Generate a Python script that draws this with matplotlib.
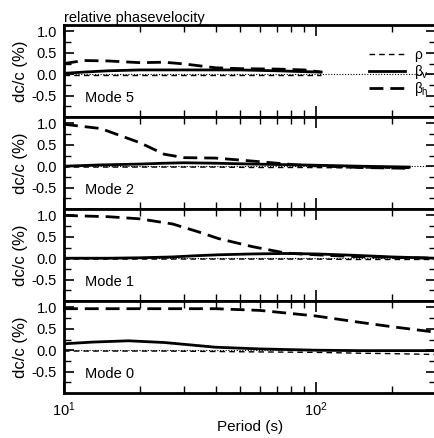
import numpy as np
import matplotlib.pyplot as plt
from matplotlib.ticker import FixedLocator, NullFormatter

plt.rcParams['font.family'] = ['Liberation Sans', 'DejaVu Sans']
plt.rcParams['mathtext.fontset'] = 'custom'
plt.rcParams['mathtext.rm'] = 'Liberation Sans'
plt.rcParams['mathtext.it'] = 'Liberation Sans'

# Mode 5
p5 = [10, 12, 15, 20, 25, 30, 40, 50, 70, 90, 105]
bh5 = [0.25, 0.32, 0.31, 0.27, 0.28, 0.24, 0.15, 0.13, 0.12, 0.10, 0.05]
bv5 = [0.02, 0.05, 0.08, 0.10, 0.10, 0.10, 0.10, 0.10, 0.08, 0.06, 0.05]
rho5 = [-0.02, -0.02, -0.02, -0.02, -0.02, -0.02, -0.02, -0.02, -0.02, -0.02, -0.02]

# Mode 2
p2 = [10, 14, 20, 25, 30, 40, 56, 88, 150, 235]
bh2 = [0.98, 0.88, 0.55, 0.28, 0.20, 0.19, 0.12, 0.02, -0.03, -0.05]
bv2 = [0.00, 0.03, 0.05, 0.07, 0.08, 0.07, 0.05, 0.03, 0.00, -0.02]
rho2 = [-0.02, -0.02, -0.02, -0.02, -0.02, -0.02, -0.03, -0.03, -0.04, -0.05]

# Mode 1
p1 = [10, 15, 20, 27, 34, 41, 56, 76, 100, 139, 200, 300]
bh1 = [1.00, 0.97, 0.92, 0.80, 0.62, 0.46, 0.27, 0.12, 0.08, 0.04, 0.02, 0.00]
bv1 = [0.00, 0.00, 0.01, 0.03, 0.06, 0.08, 0.10, 0.11, 0.10, 0.07, 0.03, 0.00]
rho1 = [-0.02, -0.02, -0.02, -0.02, -0.02, -0.02, -0.02, -0.02, -0.02, -0.03, -0.03, -0.03]

# Mode 0
p0 = [10, 13, 18, 25, 40, 60, 100, 150, 200, 300]
bh0 = [0.97, 0.97, 0.97, 0.97, 0.97, 0.93, 0.80, 0.65, 0.55, 0.42]
bv0 = [0.15, 0.19, 0.22, 0.18, 0.07, 0.03, 0.00, -0.01, -0.01, -0.01]
rho0 = [-0.02, -0.02, -0.02, -0.02, -0.03, -0.04, -0.05, -0.07, -0.08, -0.10]

modes = [("Mode 5", p5, rho5, bv5, bh5),
         ("Mode 2", p2, rho2, bv2, bh2),
         ("Mode 1", p1, rho1, bv1, bh1),
         ("Mode 0", p0, rho0, bv0, bh0)]

fig = plt.figure(figsize=(4.35, 4.38), dpi=100)
left, width = 64/435, 372/435
h = 92/438
top = 1 - 25/438
fs = 10.5

axes = []
for i, (name, p, rho, bv, bh) in enumerate(modes):
    ax = fig.add_axes([left, top - (i+1)*h, width, h])
    axes.append(ax)
    ax.set_xscale('log')
    ax.set_xlim(10, 300)
    ax.set_ylim(-1.0, 1.15)
    ax.axhline(0, color='k', lw=0.8, ls=(0, (1, 1.5)))
    l1, = ax.plot(p, rho, color='k', lw=1.0, ls=(0, (4, 3)))
    l2, = ax.plot(p, bv, color='k', lw=2.0, ls='-')
    l3, = ax.plot(p, bh, color='k', lw=2.0, ls=(0, (5, 2.5)))
    ax.set_yticks([-0.5, 0.0, 0.5, 1.0])
    ax.set_yticklabels(['-0.5', '0.0', '0.5', '1.0'])
    ax.yaxis.set_minor_locator(FixedLocator([-0.75, -0.25, 0.25, 0.75]))
    ax.xaxis.set_major_locator(FixedLocator([10, 100]))
    ax.xaxis.set_minor_locator(FixedLocator([20, 30, 40, 50, 60, 70, 80, 90, 200]))
    ax.xaxis.set_minor_formatter(NullFormatter())
    ax.tick_params(which='both', direction='in', top=True, right=True, labelsize=fs)
    ax.tick_params(which='major', axis='x', length=8, width=1.2)
    ax.tick_params(which='minor', axis='x', length=5, width=1.0)
    ax.tick_params(which='major', axis='y', length=7, width=1.2, pad=5)
    ax.tick_params(which='minor', axis='y', length=5, width=1.0)
    for s in ax.spines.values():
        s.set_linewidth(2.0)
    ax.set_ylabel('dc/c (%)', fontsize=12, labelpad=3)
    ax.text(0.057, -0.55, name, transform=ax.get_yaxis_transform(),
            fontsize=fs, va='center', ha='left')
    if i < 3:
        ax.set_xticklabels([])
    else:
        ax.set_xticklabels(['$10^1$', '$10^2$'])
        ax.tick_params(axis='x', labelsize=fs, pad=5)
        ax.set_xlabel('Period (s)', fontsize=fs + 0.5, labelpad=1)
    if i == 0:
        ax.legend([l1, l2, l3], [r'$\rho$', r'$\beta_v$', r'$\beta_h$'],
                  loc='upper left', bbox_to_anchor=(0.80, 0.83),
                  frameon=False, fontsize=fs - 0.5, handlelength=2.6,
                  labelspacing=-0.05, handletextpad=0.7, borderpad=0)

axes[0].set_title('relative phasevelocity', loc='left', fontsize=fs, pad=1)

fig.savefig('out.png', dpi=100)
